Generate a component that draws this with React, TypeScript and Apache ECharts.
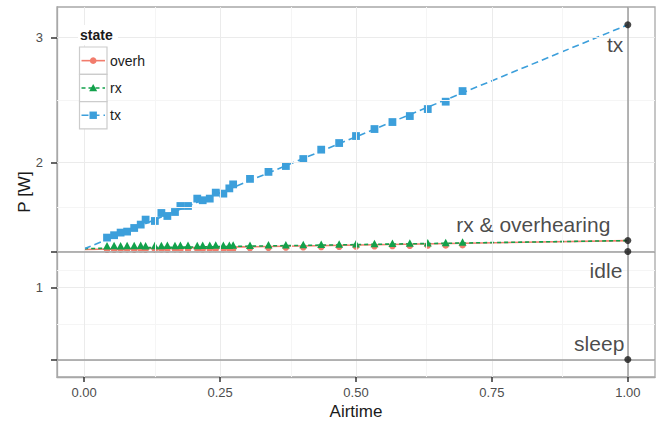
import React, { useEffect, useRef } from "react";
import * as echarts from "echarts";

// ---- data ----
const airtime = [
  0.042, 0.055, 0.067, 0.079, 0.092, 0.104, 0.113, 0.13, 0.142, 0.153, 0.167, 0.177, 0.191, 0.208, 0.218, 0.231,
  0.242, 0.256, 0.267, 0.274, 0.305, 0.339, 0.371, 0.403, 0.436, 0.469, 0.5, 0.534, 0.567, 0.599, 0.632, 0.665,
  0.696,
];
const txPower = [
  1.4, 1.419, 1.44, 1.448, 1.477, 1.504, 1.544, 1.533, 1.597, 1.573, 1.605, 1.653, 1.653, 1.712, 1.699, 1.712, 1.76,
  1.752, 1.794, 1.826, 1.87, 1.926, 1.973, 2.029, 2.104, 2.157, 2.213, 2.269, 2.325, 2.373, 2.429, 2.488, 2.573,
];
const rxPower = [
  1.334, 1.336, 1.335, 1.337, 1.336, 1.338, 1.335, 1.337, 1.336, 1.338, 1.337, 1.339, 1.338, 1.337, 1.339, 1.338,
  1.34, 1.339, 1.338, 1.34, 1.338, 1.342, 1.343, 1.345, 1.346, 1.349, 1.35, 1.352, 1.354, 1.357, 1.359, 1.361, 1.364,
];
const overhPower = [
  1.302, 1.304, 1.303, 1.305, 1.303, 1.306, 1.304, 1.305, 1.306, 1.304, 1.307, 1.305, 1.306, 1.308, 1.306, 1.307,
  1.309, 1.307, 1.308, 1.309, 1.316, 1.318, 1.32, 1.322, 1.324, 1.326, 1.328, 1.33, 1.332, 1.334, 1.336, 1.337, 1.339,
];

const fitAirtime = [0, 1];
const txFit = [1.31, 3.104];
const rxFit = [1.312, 1.376];
const overhFit = [1.305, 1.376];

const refNames = ["tx", "rx & overhearing", "idle", "sleep"];
const refPower = [3.104, 1.376, 1.288, 0.424];
const refAirtime = 1;

const xTickValues = [0, 0.25, 0.5, 0.75, 1];
const xMinorValues = [0.125, 0.375, 0.625, 0.875];
const yTickValues = [0.424, 1, 1.288, 2, 3];
const yLabelValues = [1, 2, 3];
const yMinorValues = [0.712, 1.144, 1.644, 2.5];

const states = ["overh", "rx", "tx"];

// ---- styles ----
const FONT = "'Liberation Sans', Arial, Helvetica, sans-serif";
const COLORS: Record<string, string> = { overh: "#F27C6C", rx: "#12A14B", tx: "#3C9FDB" };
const DASH: Record<string, any> = { overh: "solid", rx: [4, 3], tx: [7, 4] };
const SYMBOL: Record<string, string> = { overh: "circle", rx: "triangle", tx: "rect" };
const SYMBOL_SIZE: Record<string, any> = { overh: 6.5, rx: [8, 7.5], tx: 7.8 };
const LABEL_OFFSETS = [
  [-1, 20],
  [-14, -16],
  [-2, 18.5],
  [0, -16.3],
];
const BORDER = "#a8a8a8";

export default function App() {
  const ref = useRef<HTMLDivElement>(null);

  useEffect(() => {
    document.body.style.margin = "0";
    if (!ref.current) return;
    const chart = echarts.init(ref.current, undefined, { renderer: "svg" });

    const powerByState: Record<string, number[]> = { overh: overhPower, rx: rxPower, tx: txPower };
    const fitByState: Record<string, number[]> = { overh: overhFit, rx: rxFit, tx: txFit };

    const gridLines = [
      ...xMinorValues.map((v) => ({ xAxis: v, lineStyle: { color: "#f5f5f5", width: 1, type: "solid" } })),
      ...yMinorValues.map((v) => ({ yAxis: v, lineStyle: { color: "#f5f5f5", width: 1, type: "solid" } })),
      ...xTickValues.map((v) => ({ xAxis: v, lineStyle: { color: "#ebebeb", width: 1, type: "solid" } })),
      ...yTickValues.map((v) => ({ yAxis: v, lineStyle: { color: "#ebebeb", width: 1, type: "solid" } })),
    ];

    const refLines = [{ xAxis: refAirtime }, { yAxis: refPower[2] }, { yAxis: refPower[3] }];

    const fitSeries = states.map((s) => ({
      type: "line",
      name: s + " fit",
      z: 3,
      showSymbol: false,
      silent: true,
      data: fitAirtime.map((x, i) => [x, fitByState[s][i]]),
      lineStyle: { color: COLORS[s], width: 1.6, type: DASH[s] },
    }));

    const pointSeries = states.map((s) => ({
      type: "scatter",
      name: s,
      z: 4,
      symbol: SYMBOL[s],
      symbolSize: SYMBOL_SIZE[s],
      itemStyle: { color: COLORS[s], opacity: 1 },
      data: airtime.map((x, i) => [x, powerByState[s][i]]),
    }));

    // legend drawn with graphic elements
    const legendEls: any[] = [
      {
        type: "rect",
        z: 10,
        shape: { x: 78, y: 25, width: 40, height: 20 },
        style: { fill: "#ffffff" },
      },
      {
        type: "text",
        z: 11,
        x: 80,
        y: 34.5,
        style: {
          text: "state",
          fontSize: 14,
          fontWeight: "bold",
          fontFamily: FONT,
          fill: "#1a1a1a",
          verticalAlign: "middle",
        },
      },
    ];
    states.forEach((s, i) => {
      const top = 47 + i * 27.3;
      const cy = top + 13.65;
      legendEls.push({
        type: "rect",
        z: 10,
        shape: { x: 79.5, y: top, width: 27.5, height: 27.3 },
        style: { fill: "#ffffff", stroke: "#cccccc", lineWidth: 1.2 },
      });
      legendEls.push({
        type: "line",
        z: 11,
        shape: { x1: 81.5, y1: cy, x2: 105, y2: cy },
        style: { stroke: COLORS[s], lineWidth: 1.6, lineDash: DASH[s] === "solid" ? null : DASH[s] },
      });
      if (s === "overh") {
        legendEls.push({ type: "circle", z: 12, shape: { cx: 93.2, cy, r: 3.3 }, style: { fill: COLORS[s] } });
      } else if (s === "rx") {
        legendEls.push({
          type: "polygon",
          z: 12,
          shape: { points: [[93.2, cy - 4], [97.2, cy + 3.2], [89.2, cy + 3.2]] },
          style: { fill: COLORS[s] },
        });
      } else {
        legendEls.push({
          type: "rect",
          z: 12,
          shape: { x: 89.5, y: cy - 3.7, width: 7.4, height: 7.4 },
          style: { fill: COLORS[s] },
        });
      }
      legendEls.push({
        type: "text",
        z: 11,
        x: 110,
        y: cy,
        style: { text: s, fontSize: 14, fontFamily: FONT, fill: "#1a1a1a", verticalAlign: "middle" },
      });
    });

    const option: any = {
      animation: false,
      backgroundColor: "#ffffff",
      textStyle: { fontFamily: FONT },
      grid: {
        left: 57,
        right: 7,
        top: 7,
        bottom: 47,
        show: true,
        borderColor: BORDER,
        borderWidth: 1.3,
        backgroundColor: "transparent",
      },
      xAxis: {
        type: "value",
        min: -0.05,
        max: 1.05,
        axisLine: { show: true, onZero: false, lineStyle: { color: BORDER, width: 1.3 } },
        splitLine: { show: false },
        axisTick: {
          show: true,
          inside: false,
          customValues: xTickValues,
          length: 5,
          lineStyle: { color: "#333333", width: 1.5 },
        },
        axisLabel: {
          customValues: xTickValues,
          formatter: (v: number) => v.toFixed(2),
          fontSize: 13,
          color: "#4d4d4d",
          margin: 9,
          fontFamily: FONT,
        },
        name: "Airtime",
        nameLocation: "middle",
        nameGap: 26,
        nameMoveOverlap: false,
        nameTextStyle: { fontSize: 17, color: "#1a1a1a", fontFamily: FONT },
      },
      yAxis: {
        type: "value",
        min: 0.284,
        max: 3.246,
        axisLine: { show: true, onZero: false, lineStyle: { color: BORDER, width: 1.3 } },
        splitLine: { show: false },
        axisTick: {
          show: true,
          inside: false,
          customValues: yTickValues,
          length: 6,
          lineStyle: { color: "#333333", width: 1.5 },
        },
        axisLabel: {
          customValues: yLabelValues,
          formatter: (v: number) => String(v),
          fontSize: 13,
          color: "#4d4d4d",
          margin: 14,
          fontFamily: FONT,
        },
        name: "P [W]",
        nameLocation: "middle",
        nameRotate: 90,
        nameGap: 24,
        nameMoveOverlap: false,
        nameTextStyle: { fontSize: 17, color: "#1a1a1a", fontFamily: FONT },
      },
      series: [
        {
          type: "line",
          name: "grid",
          z: 1,
          silent: true,
          data: [],
          markLine: {
            silent: true,
            symbol: ["none", "none"],
            label: { show: false },
            emphasis: { disabled: true },
            data: gridLines,
          },
        },
        {
          type: "line",
          name: "reference lines",
          z: 2,
          silent: true,
          data: [],
          markLine: {
            silent: true,
            symbol: ["none", "none"],
            label: { show: false },
            emphasis: { disabled: true },
            lineStyle: { color: "#9c9c9c", width: 1.5, type: "solid" },
            data: refLines,
          },
        },
        ...fitSeries,
        ...pointSeries,
        {
          type: "scatter",
          name: "reference",
          z: 6,
          symbol: "circle",
          symbolSize: 7,
          itemStyle: { color: "#1a1a1a" },
          data: refPower.map((p, i) => ({
            value: [refAirtime, p],
            label: {
              show: true,
              formatter: refNames[i],
              position: "left",
              distance: 0,
              offset: LABEL_OFFSETS[i],
              fontSize: 21,
              color: "#1a1a1a",
              fontFamily: FONT,
            },
          })),
        },
      ],
      graphic: { elements: legendEls },
    };

    chart.setOption(option);
    return () => chart.dispose();
  }, []);

  return <div ref={ref} style={{ width: 662, height: 425 }} />;
}
